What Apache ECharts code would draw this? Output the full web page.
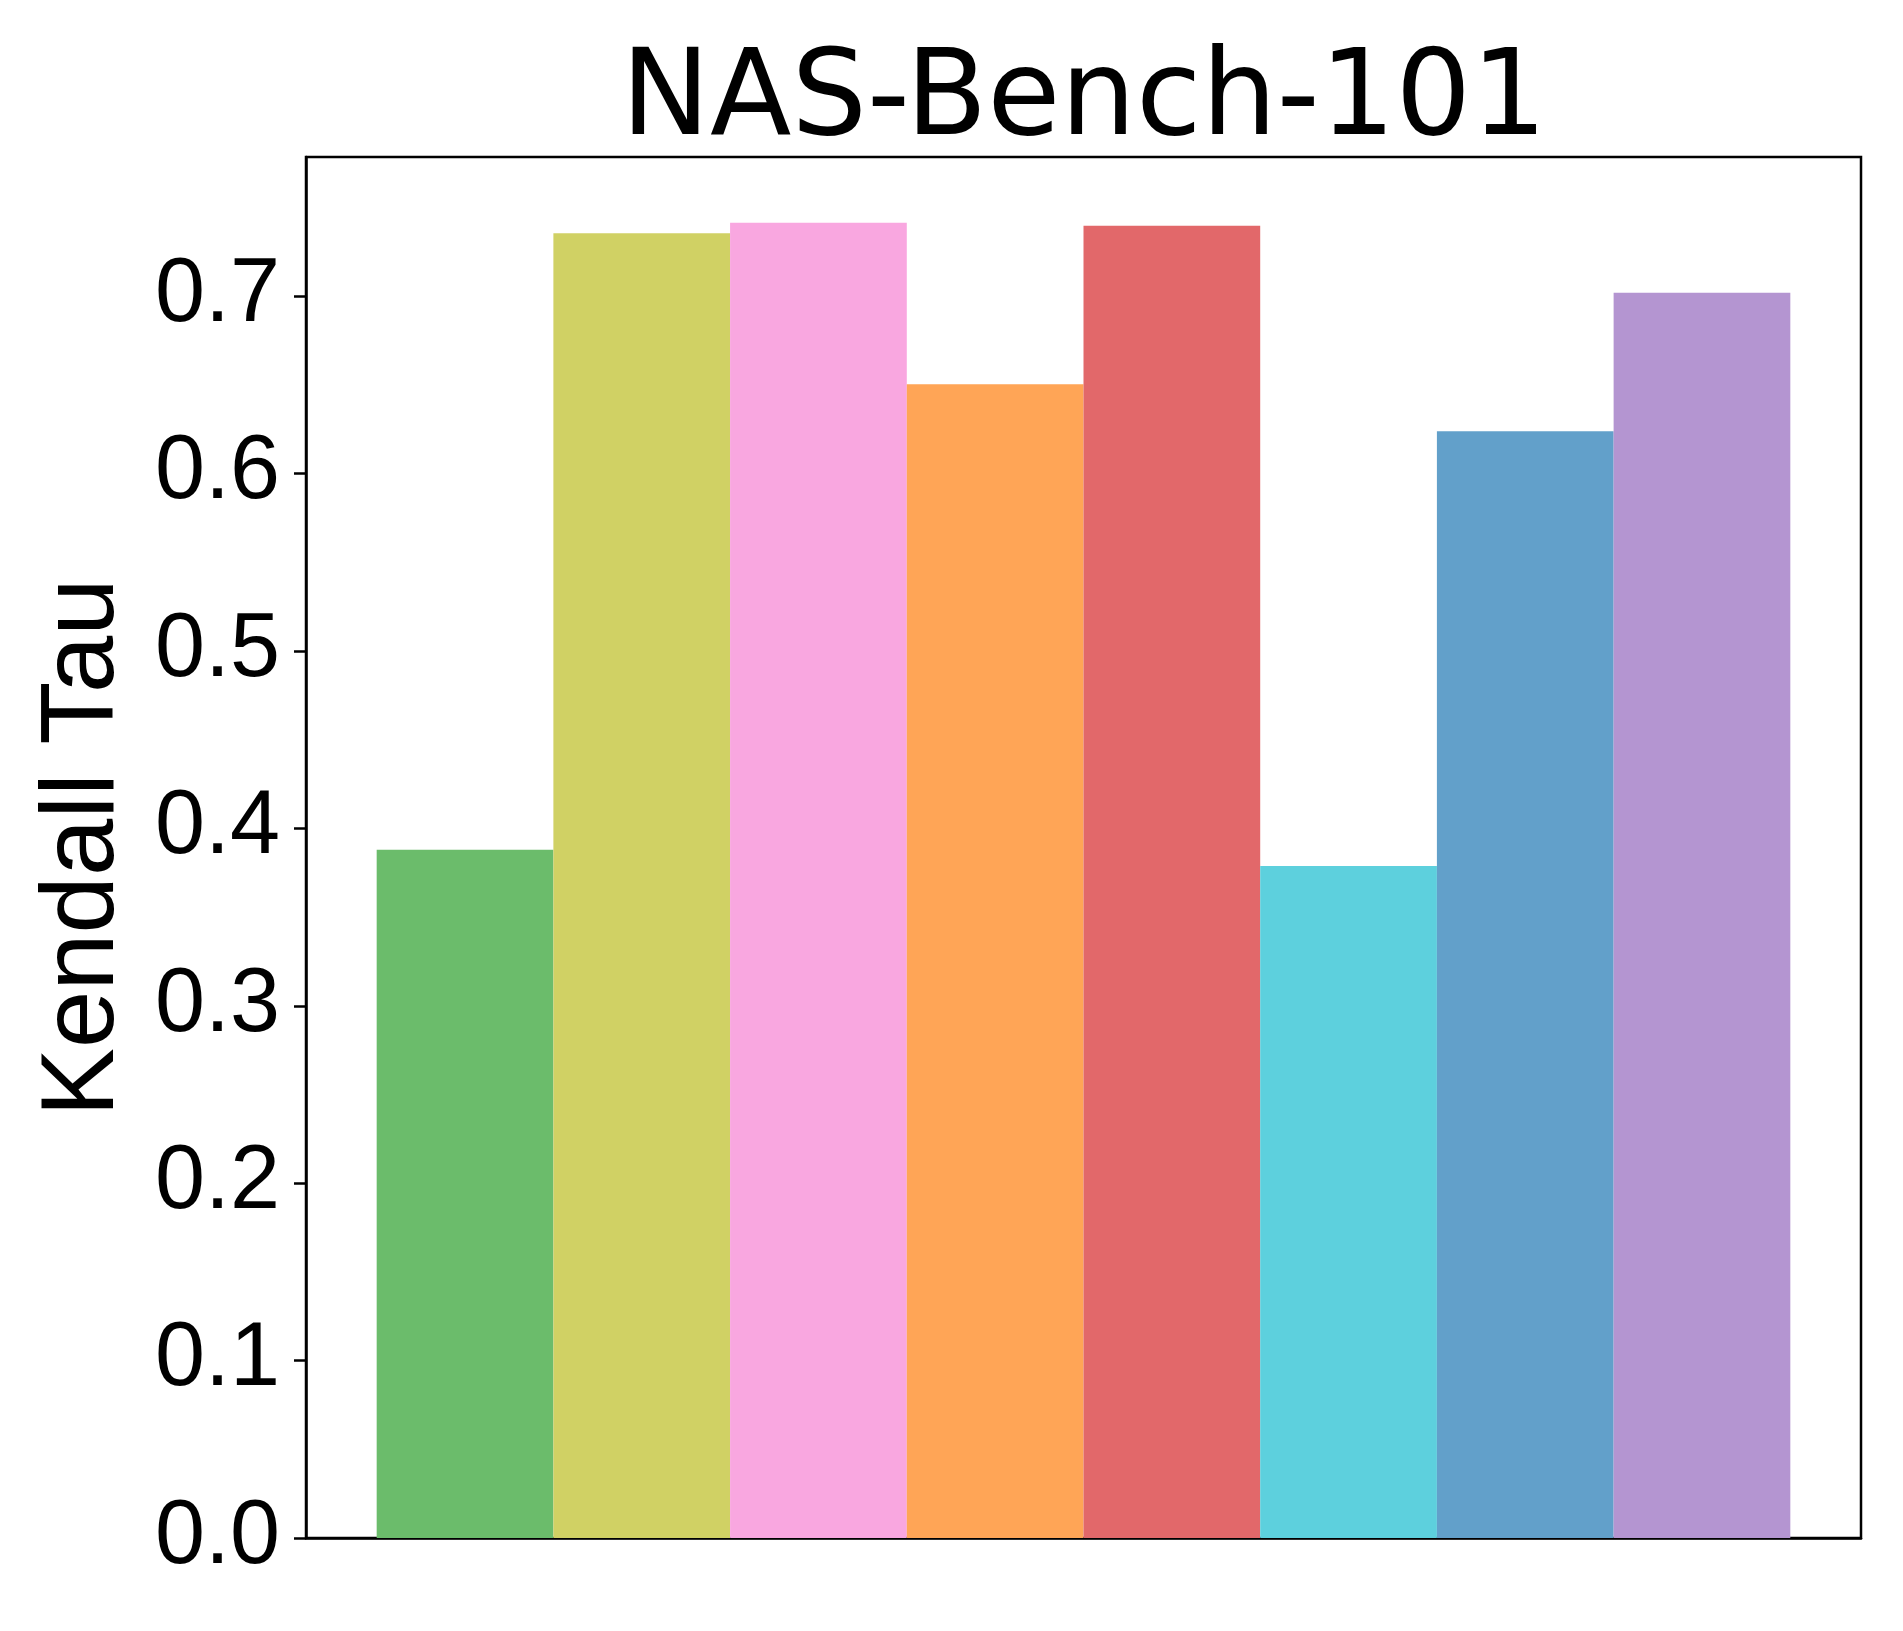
<!DOCTYPE html>
<html>
<head>
<meta charset="utf-8">
<script src="https://cdn.jsdelivr.net/npm/echarts@6/dist/echarts.min.js"></script>
<style>
html,body{margin:0;padding:0;background:#fff;}
#chart{width:1903px;height:1631px;}
</style>
</head>
<body>
<div id="chart"></div>
<script>
const titleText = 'NAS-Bench-101';
const yAxisName = 'Kendall Tau';
const positions = [0, 1, 2, 3, 4, 5, 6, 7];
const values = [0.388, 0.7355, 0.7414, 0.6504, 0.7397, 0.3788, 0.6239, 0.7019];
const colors = ['#6bbc6b', '#d0d164', '#f9a7e0', '#ffa556', '#e2686a', '#5dd0dd', '#62a0ca', '#b495d1'];
const yTicks = [0.0, 0.1, 0.2, 0.3, 0.4, 0.5, 0.6, 0.7];

const chart = echarts.init(document.getElementById('chart'), null, {renderer: 'canvas'});
const yMax = Math.max(...values) * 1.05;

chart.setOption({
  animation: false,
  backgroundColor: '#ffffff',
  title: {
    text: titleText,
    left: 1084,
    top: 44,
    textAlign: 'center',
    padding: 0,
    textStyle: {fontFamily: 'DejaVu Sans', fontSize: 119, fontWeight: 'normal', color: '#000'}
  },
  grid: {
    left: 306, right: 42, top: 157, bottom: 93,
    show: true, borderColor: '#000', borderWidth: 2.5, backgroundColor: 'transparent'
  },
  xAxis: {
    type: 'value',
    min: -0.9, max: 7.9,
    axisLabel: {show: false},
    axisTick: {show: false},
    splitLine: {show: false},
    axisLine: {show: true, onZero: false, lineStyle: {color: '#000', width: 2.5}}
  },
  yAxis: {
    type: 'value',
    min: 0, max: yMax, interval: 0.1,
    name: yAxisName,
    nameLocation: 'middle',
    nameGap: 170,
    nameTextStyle: {fontFamily: 'Liberation Sans', fontSize: 103, color: '#000'},
    axisLine: {show: true, onZero: false, lineStyle: {color: '#000', width: 2.5}},
    axisTick: {show: true, inside: false, length: 12, lineStyle: {color: '#000', width: 2.5}},
    splitLine: {show: false},
    axisLabel: {
      fontFamily: 'Liberation Sans', fontSize: 90, color: '#000', margin: 26,
      showMaxLabel: false,
      formatter: function (v) {
        return yTicks.some(t => Math.abs(t - v) < 1e-6) ? v.toFixed(1) : '';
      }
    }
  },
  series: [{
    type: 'bar',
    barWidth: '100%',
    data: positions.map((p, i) => ({value: [p, values[i]], itemStyle: {color: colors[i]}}))
  }]
});
</script>
</body>
</html>
